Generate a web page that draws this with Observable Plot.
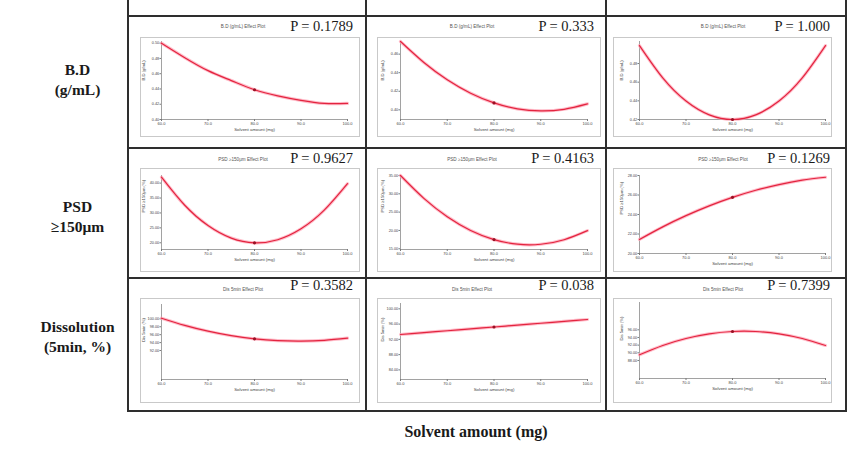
<!DOCTYPE html>
<html>
<head>
<meta charset="utf-8">
<script src="https://cdn.jsdelivr.net/npm/d3@7"></script>
<script src="https://cdn.jsdelivr.net/npm/@observablehq/plot@0.6"></script>
<style>
  html, body { margin: 0; padding: 0; background: #fff; }
  #fig { position: relative; width: 865px; height: 452px; overflow: hidden; background: #fff; }
  .gl { position: absolute; background: #2e2e2e; }
  .rowlab { position: absolute; width: 155px; text-align: center; font-family: "Liberation Serif", "DejaVu Serif", serif; font-weight: bold; font-size: 15.5px; line-height: 20px; color: #1a1a1a; }
  .ptitle { position: absolute; width: 160px; text-align: center; font-family: "Liberation Sans", sans-serif; font-size: 4.6px; color: #555; }
  .pval { position: absolute; font-family: "Liberation Serif", serif; font-size: 14.5px; color: #1a1a1a; white-space: nowrap; }
  .xlab { position: absolute; font-family: "Liberation Serif", serif; font-weight: bold; font-size: 16px; color: #1a1a1a; white-space: nowrap; }
</style>
</head>
<body>
<div id="fig"></div>
<script>
// ---------- data ----------
const solvent = [60, 65, 70, 75, 80, 85, 90, 95, 100];
const xTicks = [60, 70, 80, 90, 100];
const centerX = 80;

const bd1 = [0.500, 0.481, 0.464, 0.451, 0.439, 0.431, 0.425, 0.421, 0.421];
const bd2 = [0.4736, 0.4510, 0.4324, 0.4179, 0.4075, 0.4011, 0.3988, 0.4006, 0.4064];
const bd3 = [0.4992, 0.4646, 0.4398, 0.4250, 0.4200, 0.4250, 0.4398, 0.4646, 0.4992];
const psd1 = [42.0, 32.58, 25.78, 21.58, 20.0, 21.03, 24.68, 30.93, 39.8];
const psd2 = [35.0, 28.76, 23.76, 20.0, 17.5, 16.25, 16.23, 17.47, 19.95];
const psd3 = [21.44, 22.73, 23.88, 24.89, 25.76, 26.49, 27.07, 27.52, 27.82];
const dis1 = [100.16, 98.35, 96.88, 95.74, 94.94, 94.48, 94.36, 94.57, 95.12];
const dis2 = [93.28, 93.77, 94.26, 94.75, 95.24, 95.73, 96.22, 96.71, 97.20];
const dis3 = [89.48, 91.91, 93.74, 94.95, 95.56, 95.56, 94.96, 93.74, 91.92];

const centerValues = [0.439, 0.4075, 0.420, 20.0, 17.5, 25.76, 94.94, 95.24, 95.56];

const yTicks = [
  [0.40, 0.42, 0.44, 0.46, 0.48, 0.50],
  [0.40, 0.42, 0.44, 0.46],
  [0.42, 0.44, 0.46, 0.48],
  [20, 25, 30, 35, 40],
  [15, 20, 25, 30, 35],
  [20, 22, 24, 26, 28],
  [92, 94, 96, 98, 100],
  [84, 88, 92, 96, 100],
  [88, 90, 92, 94, 96]
];
const yDomains = [
  [0.40, 0.5022], [0.3896, 0.4736], [0.42, 0.5036],
  [17.75, 42.55], [14.8, 35.0], [20, 28],
  [84.68, 103.62], [81.48, 101.4], [83.3, 103.12]
];

const pValues = ["0.1789", "0.333", "1.000", "0.9627", "0.4163", "0.1269", "0.3582", "0.038", "0.7399"];
const rowNames = [["B.D", "(g/mL)"], ["PSD", "≥150μm"], ["Dissolution", "(5min, %)"]];
const yLabels = ["B.D (g/mL)", "PSD ≥150μm (%)", "Dis 5min (%)"];
const panelTitles = ["B.D (g/mL) Effect Plot", "PSD ≥150μm Effect Plot", "Dis 5min Effect Plot"];
const xLabel = "Solvent amount (mg)";
const xAxisTitle = "Solvent amount (mg)";

const series = [bd1, bd2, bd3, psd1, psd2, psd3, dis1, dis2, dis3];

// ---------- layout ----------
const fig = document.getElementById("fig");
const gridX = [128, 366, 606, 846];
const gridY = [16, 148, 278, 411];
const colFrameX = [[140, 360], [377, 601], [613, 832]];
const rowFrameY = [[37, 137], [168, 272], [298, 403]];
const colPlotX = [[161, 347], [400, 587], [639, 825]];
const plotY = [
  [41, 119], [41, 119], [41, 119],
  [175, 249], [175, 249], [175, 253],
  [304, 379], [303, 379], [302, 378]
];
const titleCX = [243, 472, 723];
const titleCY = [27, 160, 290];
const pRight = [353, 594, 830];
const pTop = [18, 150, 277];
const rowLabTop = [60, 197, 317];

function add(tag, cls, css, text) {
  const el = document.createElement(tag);
  if (cls) el.className = cls;
  Object.assign(el.style, css);
  if (text != null) el.textContent = text;
  fig.appendChild(el);
  return el;
}

// grid lines
gridX.forEach(x => add("div", "gl", {left: (x - 1) + "px", top: "0px", width: "2px", height: (gridY[3] + 1) + "px"}));
gridY.forEach(y => add("div", "gl", {left: (gridX[0] - 1) + "px", top: (y - 1) + "px", width: (gridX[3] - gridX[0] + 2) + "px", height: "2px"}));

// row labels
rowNames.forEach((lines, r) => {
  const d = add("div", "rowlab", {left: "0px", top: rowLabTop[r] + "px"});
  d.innerHTML = lines.join("<br>");
});

// bottom label
const xl = add("div", "xlab", {left: "0px", top: "423px"}, xLabel);
xl.style.left = (476 - xl.getBoundingClientRect().width / 2) + "px";

// panels
for (let i = 0; i < 9; i++) {
  const r = Math.floor(i / 3), c = i % 3;
  const [fx0, fx1] = colFrameX[c];
  const [fy0, fy1] = rowFrameY[r];
  const [px0, px1] = colPlotX[c];
  const [py0, py1] = plotY[i];
  const data = solvent.map((x, k) => ({x, y: series[i][k]}));
  const dom = yDomains[i];

  const svg = Plot.plot({
    width: fx1 - fx0,
    height: fy1 - fy0,
    marginLeft: px0 - fx0,
    marginRight: fx1 - px1,
    marginTop: py0 - fy0,
    marginBottom: fy1 - py1,
    x: {domain: [60, 100]},
    y: {domain: dom},
    style: {fontFamily: "Liberation Sans, sans-serif", fontSize: "4px", background: "#fff", color: "#444", overflow: "visible"},
    marks: [
      Plot.ruleY([dom[0]], {stroke: "#7a7a7a", strokeWidth: 0.7}),
      Plot.ruleX([60], {y1: dom[0], y2: dom[1], stroke: "#7a7a7a", strokeWidth: 0.7}),
      Plot.axisX({ticks: xTicks, tickFormat: d => d.toFixed(1), tickSize: 2, tickPadding: 1, fontSize: 4, stroke: "#7a7a7a", label: null}),
      Plot.axisY({ticks: yTicks[i], tickFormat: d => d.toFixed(2), tickSize: 1.5, tickPadding: 0.8, fontSize: 3.8, stroke: "#7a7a7a", label: null}),
      Plot.text([xAxisTitle], {frameAnchor: "bottom", dy: 11, fontSize: 4.4, fill: "#444"}),
      Plot.text([yLabels[r]], {frameAnchor: "left", rotate: -90, dx: -17.5, fontSize: 4.2, fill: "#444"}),
      Plot.line(data, {x: "x", y: "y", curve: "natural", stroke: "#ff9fb2", strokeWidth: 3.2, strokeOpacity: 0.7}),
      Plot.line(data, {x: "x", y: "y", curve: "natural", stroke: "#e3243f", strokeWidth: 1.2}),
      Plot.dot([{x: centerX, y: centerValues[i]}], {x: "x", y: "y", r: 1.6, fill: "#9a1024", stroke: "none"})
    ]
  });
  svg.style.position = "absolute";
  svg.style.left = fx0 + "px";
  svg.style.top = fy0 + "px";
  svg.style.outline = "1px solid #c9c9c9";
  svg.style.outlineOffset = "-1px";
  fig.appendChild(svg);

  add("div", "ptitle", {left: (titleCX[c] - 80) + "px", top: (titleCY[r] - 3) + "px"}, panelTitles[r]);
  const p = add("div", "pval", {left: "0px", top: pTop[r] + "px"}, "P = " + pValues[i]);
  p.style.left = (pRight[c] - p.getBoundingClientRect().width) + "px";
}
</script>
</body>
</html>
